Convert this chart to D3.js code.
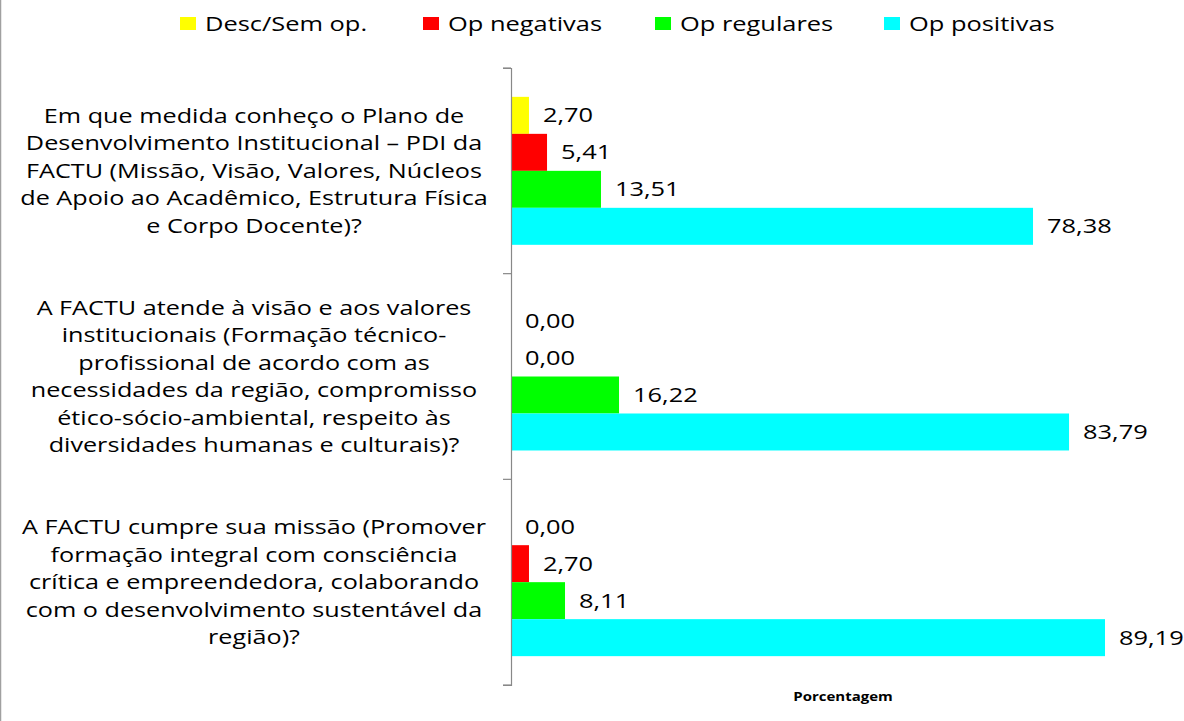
<!DOCTYPE html>
<html><head><meta charset="utf-8">
<script src="https://cdn.jsdelivr.net/npm/d3@7"></script>
<style>body{margin:0;background:#fff}svg{display:block}</style>
</head><body>
<svg id="c" width="1184" height="721"></svg>
<script>
const categories = [
  "Em que medida conheço o Plano de Desenvolvimento Institucional – PDI da FACTU (Missão, Visão, Valores, Núcleos de Apoio ao Acadêmico, Estrutura Física e Corpo Docente)?",
  "A FACTU atende à visão e aos valores institucionais (Formação técnico-profissional de acordo com as necessidades da região, compromisso ético-sócio-ambiental, respeito às diversidades humanas e culturais)?",
  "A FACTU cumpre sua missão (Promover formação integral com consciência crítica e empreendedora, colaborando com o desenvolvimento sustentável da região)?"
];
const categoryLines = [
  ["Em que medida conheço o Plano de","Desenvolvimento  Institucional – PDI da","FACTU (Missão, Visão, Valores, Núcleos","de Apoio ao Acadêmico, Estrutura Física","e Corpo  Docente)?"],
  ["A FACTU atende à visão e aos valores","institucionais (Formação técnico-","profissional de acordo com as","necessidades da região, compromisso","ético-sócio-ambiental, respeito às","diversidades humanas e culturais)?"],
  ["A FACTU cumpre sua missão (Promover","formação integral com consciência","crítica e empreendedora, colaborando","com o desenvolvimento sustentável da","região)?"]
];
const seriesNames = ["Desc/Sem op.","Op negativas","Op regulares","Op positivas"];
const seriesColors = ["#ffff00","#ff0000","#00ff00","#00ffff"];
const descSemOp = [2.70, 0.00, 0.00];
const opNegativas = [5.41, 0.00, 2.70];
const opRegulares = [13.51, 16.22, 8.11];
const opPositivas = [78.38, 83.79, 89.19];
const axisTitle = "Porcentagem";

const values = [descSemOp, opNegativas, opRegulares, opPositivas];
const svg = d3.select("#c");
const FONT = "'Open Sans', sans-serif";

// left border
svg.append("line").attr("x1",0.5).attr("x2",0.5).attr("y1",0).attr("y2",721).attr("stroke","#a0a0a0").attr("stroke-width",1.5);

const x = d3.scaleLinear().domain([0, 100]).range([511, 511 + 666]);
const y = d3.scaleBand().domain(d3.range(categories.length)).range([68, 685]);
const yi = d3.scaleBand().domain(d3.range(seriesNames.length)).range([0, y.bandwidth()]).paddingOuter(0.78);

// bars
seriesNames.forEach((s, si) => {
  const g = svg.append("g");
  g.selectAll("rect").data(values[si]).join("rect")
    .attr("x", x(0)).attr("y", (d, i) => y(i) + yi(si))
    .attr("width", d => x(d) - x(0)).attr("height", yi.bandwidth())
    .attr("fill", seriesColors[si]);
  g.selectAll("text").data(values[si]).join("text")
    .attr("transform", (d, i) => `translate(${x(d) + 14},${y(i) + yi(si) + yi.bandwidth()/2}) scale(1.27,1)`)
    .attr("dy", "0.35em").attr("font-family", FONT).attr("font-size", 20).attr("fill", "#000")
    .text(d => d.toFixed(2).replace(".", ","));
});

// axis line & ticks
const ax = svg.append("g").attr("transform", `translate(${x(0)},0)`)
  .call(d3.axisLeft(y).tickSizeInner(0).tickSizeOuter(8).tickFormat(""));
ax.select(".domain").attr("stroke", "#888").attr("stroke-width", 1.2);
svg.selectAll(null).data(d3.range(categories.length + 1)).join("line")
  .attr("x1", x(0) - 8).attr("x2", x(0)).attr("y1", i => i < categories.length ? y(i) : y.range()[1])
  .attr("y2", i => i < categories.length ? y(i) : y.range()[1]).attr("stroke", "#888").attr("stroke-width", 1.2);

// category labels
categoryLines.forEach((lines, i) => {
  const cy = y(i) + y.bandwidth()/2;
  const lh = 27.5;
  const t = svg.append("text").attr("transform", "translate(254,0) scale(1.26,1)")
    .attr("font-family", FONT).attr("font-size", 20).attr("text-anchor", "middle").attr("fill", "#000");
  lines.forEach((l, j) => {
    t.append("tspan").attr("x", 0).attr("y", cy + (j - (lines.length - 1)/2) * lh).attr("dy", "0.35em").text(l);
  });
});

// axis title
svg.append("text").attr("transform", "translate(843,701) scale(1.25,1)").attr("text-anchor", "middle")
  .attr("font-family", FONT).attr("font-weight", "bold").attr("font-size", 12).text(axisTitle);

// legend
const legX = [180, 423, 655, 884];
seriesNames.forEach((s, si) => {
  svg.append("rect").attr("x", legX[si]).attr("y", 17).attr("width", 16).attr("height", 13).attr("fill", seriesColors[si]);
  svg.append("text").attr("transform", `translate(${legX[si] + 25},24) scale(1.27,1)`).attr("dy", "0.35em")
    .attr("font-family", FONT).attr("font-size", 20).text(s);
});
</script>
</body></html>
